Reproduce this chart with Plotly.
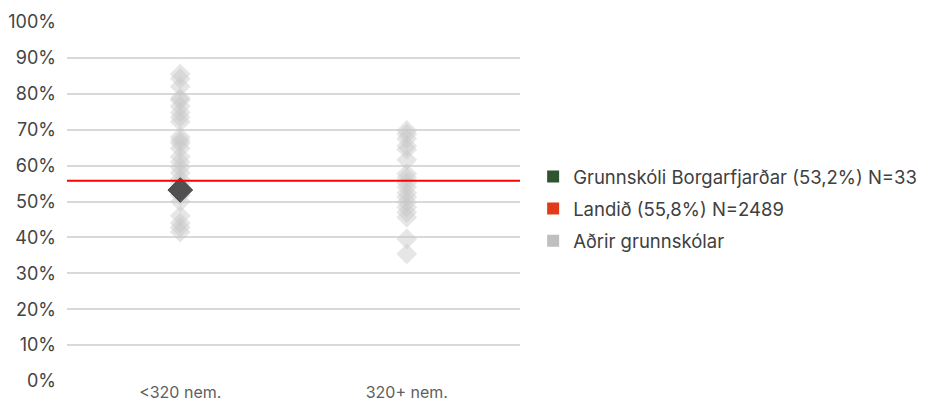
import plotly.graph_objects as go

categories = ["<320 nem.", "320+ nem."]
small_schools = [85.5, 84.2, 82.0, 78.8, 78.2, 76.5, 74.8, 73.5, 72.2, 68.0, 67.0, 66.2,
                 64.8, 62.5, 61.0, 59.5, 58.0, 56.2, 55.0, 51.8, 50.0, 46.0, 44.0, 42.8, 41.5]
large_schools = [69.8, 68.8, 67.5, 65.5, 64.5, 61.6, 57.7, 56.6, 55.2, 54.0, 52.4, 51.2,
                 49.8, 48.4, 47.0, 45.6, 39.6, 35.4]
school_name = "Grunnskóli Borgarfjarðar"
school_value = 53.2
school_n = 33
school_cat = "<320 nem."
national_value = 55.8
national_n = 2489
y_ticks = list(range(0, 101, 10))

FONT = "Inter"
fig = go.Figure()

# other schools
fig.add_trace(go.Scatter(
    x=[categories[0]] * len(small_schools) + [categories[1]] * len(large_schools),
    y=small_schools + large_schools,
    mode="markers",
    marker=dict(symbol="diamond", size=16, color="rgba(200,200,200,0.45)", line=dict(width=0)),
    showlegend=False, hoverinfo="y",
))
# the school
fig.add_trace(go.Scatter(
    x=[school_cat], y=[school_value], mode="markers",
    marker=dict(symbol="diamond", size=19, color="#505050", line=dict(width=1, color="#444444")),
    showlegend=False,
))
# national line
fig.add_hline(y=national_value, line=dict(color="#ff0000", width=2), layer="above")

# legend entries
legend_items = [
    (f"{school_name} ({str(school_value).replace('.', ',')}%) N={school_n}", "#2e5530"),
    (f"Landið ({str(national_value).replace('.', ',')}%) N={national_n}", "#e03c1a"),
    ("Aðrir grunnskólar", "#bfbfbf"),
]
for i, (name, col) in enumerate(legend_items):
    fig.add_trace(go.Scatter(
        x=[None], y=[None], mode="markers", name=name, legendgroup=f"g{i}",
        marker=dict(symbol="square", size=14, color=col),
    ))

fig.update_layout(
    width=980, height=407,
    margin=dict(l=59, r=468, t=14, b=34),
    plot_bgcolor="white", paper_bgcolor="white",
    font=dict(family=FONT, color="#444444"),
    showlegend=True,
    legend=dict(x=1.029, y=0.479, xanchor="left", yanchor="middle",
                font=dict(size=18.5, color="#404040", family=FONT),
                tracegroupgap=5, itemsizing="constant", itemwidth=30,
                bgcolor="rgba(0,0,0,0)"),
    xaxis=dict(type="category", categoryorder="array", categoryarray=categories,
               range=[-0.5, 1.5], showgrid=False, zeroline=False, showline=False,
               automargin=False, ticks="", tickfont=dict(size=16, color="#606060")),
    yaxis=dict(range=[0, 100], tickvals=y_ticks, ticktext=[f"{v}%" for v in y_ticks],
               showgrid=True, gridcolor="#d9d9d9", gridwidth=1.5, zeroline=False,
               showline=False, ticks="", automargin=False, ticklabelstandoff=10,
               tickfont=dict(size=18, color="#444444")),
)

fig.write_html("out.html")
